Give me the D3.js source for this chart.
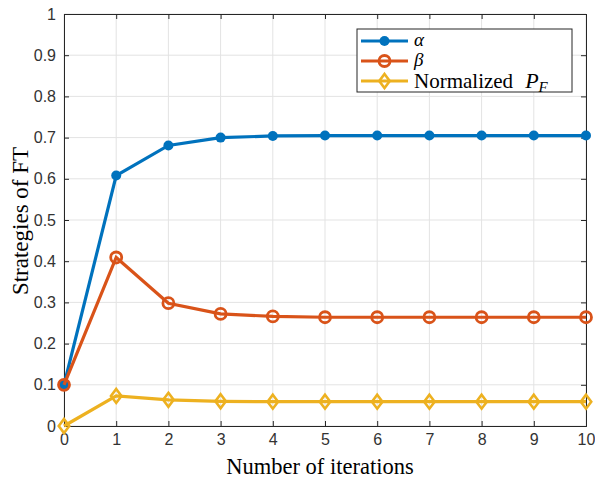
<!DOCTYPE html>
<html>
<head>
<meta charset="utf-8">
<script src="https://cdn.jsdelivr.net/npm/d3@7"></script>
<style>
  body { margin: 0; background: #fff; }
  svg { display: block; }
</style>
</head>
<body>
<svg id="chart" width="595" height="479"></svg>
<script>
// data
var iterations = [0, 1, 2, 3, 4, 5, 6, 7, 8, 9, 10]
var alphaVals = [0.1, 0.608, 0.681, 0.700, 0.704, 0.705, 0.705, 0.705, 0.705, 0.705, 0.705]
var betaVals = [0.1, 0.409, 0.298, 0.272, 0.266, 0.264, 0.264, 0.264, 0.264, 0.264, 0.264]
var pfVals = [0, 0.073, 0.0635, 0.060, 0.059, 0.059, 0.059, 0.059, 0.059, 0.059, 0.059]
var yTicks = [0, 0.1, 0.2, 0.3, 0.4, 0.5, 0.6, 0.7, 0.8, 0.9, 1]

var colors = ['#0072BD', '#D95319', '#EDB120']
var margin = { left: 64, right: 9, top: 14, bottom: 53 }
var width = 595, height = 479

var svg = d3.select('#chart')
var x = d3.scaleLinear().domain([0, 10]).range([margin.left, width - margin.right])
var y = d3.scaleLinear().domain([0, 1]).range([height - margin.bottom, margin.top])

// grid
var grid = svg.append('g').attr('stroke', '#e3e3e3').attr('stroke-width', 1)
grid.selectAll('.gx').data(iterations).enter().append('line')
  .attr('x1', function (d) { return x(d) }).attr('x2', function (d) { return x(d) })
  .attr('y1', y(0)).attr('y2', y(1))
grid.selectAll('.gy').data(yTicks).enter().append('line')
  .attr('y1', function (d) { return y(d) }).attr('y2', function (d) { return y(d) })
  .attr('x1', x(0)).attr('x2', x(10))

// axes
var fmt = function (d) { return d3.format('~g')(d) }
var xAxis = svg.append('g').attr('transform', 'translate(0,' + y(0) + ')')
  .call(d3.axisBottom(x).tickValues(iterations).tickSize(-5).tickPadding(8).tickFormat(fmt))
var yAxis = svg.append('g').attr('transform', 'translate(' + x(0) + ',0)')
  .call(d3.axisLeft(y).tickValues(yTicks).tickSize(-5).tickPadding(8).tickFormat(fmt))
var xTop = svg.append('g').attr('transform', 'translate(0,' + y(1) + ')')
  .call(d3.axisTop(x).tickValues(iterations).tickSize(-5).tickFormat(''))
var yRight = svg.append('g').attr('transform', 'translate(' + x(10) + ',0)')
  .call(d3.axisRight(y).tickValues(yTicks).tickSize(-5).tickFormat(''))

;[xAxis, yAxis, xTop, yRight].forEach(function (g) {
  g.select('.domain').attr('stroke', '#262626').attr('stroke-width', 1)
  g.selectAll('.tick line').attr('stroke', '#262626')
  g.selectAll('.tick text').attr('fill', '#333')
    .style('font-family', 'Liberation Sans, Arial, sans-serif').style('font-size', '16px')
})

// series
var series = [
  { vals: alphaVals, color: colors[0], marker: 'dot' },
  { vals: betaVals, color: colors[1], marker: 'ring' },
  { vals: pfVals, color: colors[2], marker: 'diamond' }
]
var line = d3.line().x(function (d, i) { return x(iterations[i]) }).y(function (d) { return y(d) })

function drawMarker (g, type, color, cx, cy) {
  if (type === 'dot') {
    g.append('circle').attr('cx', cx).attr('cy', cy).attr('r', 5).attr('fill', color)
  } else if (type === 'ring') {
    g.append('circle').attr('cx', cx).attr('cy', cy).attr('r', 5.5)
      .attr('fill', 'none').attr('stroke', color).attr('stroke-width', 2.8)
  } else {
    var s = 7
    g.append('path')
      .attr('d', 'M' + cx + ',' + (cy - s) + 'L' + (cx + s * 0.75) + ',' + cy + 'L' + cx + ',' + (cy + s) + 'L' + (cx - s * 0.75) + ',' + cy + 'Z')
      .attr('fill', 'none').attr('stroke', color).attr('stroke-width', 2.6)
  }
}

series.forEach(function (s) {
  var g = svg.append('g')
  g.append('path').datum(s.vals).attr('d', line)
    .attr('fill', 'none').attr('stroke', s.color).attr('stroke-width', 3.2)
  s.vals.forEach(function (v, i) {
    drawMarker(g, s.marker, s.color, x(iterations[i]), y(v))
  })
})

// legend
var lg = svg.append('g').attr('transform', 'translate(357,29)')
lg.append('rect').attr('width', 215).attr('height', 63)
  .attr('fill', '#fff').attr('stroke', '#262626').attr('stroke-width', 1)
var rows = [12, 32, 52]
series.forEach(function (s, i) {
  lg.append('line').attr('x1', 4).attr('x2', 51).attr('y1', rows[i]).attr('y2', rows[i])
    .attr('stroke', s.color).attr('stroke-width', 3.2)
  drawMarker(lg, s.marker, s.color, 27.5, rows[i])
})
var serif = 'Liberation Serif, Times New Roman, serif'
lg.append('text').attr('x', 57).attr('y', rows[0] + 5).style('font-family', serif)
  .style('font-size', '19px').style('font-style', 'italic').text('α')
lg.append('text').attr('x', 57).attr('y', rows[1] + 5).style('font-family', serif)
  .style('font-size', '19px').style('font-style', 'italic').text('β')
var t3 = lg.append('text').attr('x', 57).attr('y', rows[2] + 7).style('font-family', serif).style('font-size', '21px')
t3.append('tspan').text('Normalized')
t3.append('tspan').attr('dx', 12).style('font-style', 'italic').style('font-size', '22px').text('P')
t3.append('tspan').attr('dy', 4).style('font-style', 'italic').style('font-size', '15px').text('F')

// axis labels
svg.append('text').attr('x', (x(0) + x(10)) / 2 - 5).attr('y', 474)
  .attr('text-anchor', 'middle').style('font-family', serif).style('font-size', '22.5px')
  .text('Number of iterations')
svg.append('text').attr('transform', 'translate(28,' + (y(0.5) + 1) + ') rotate(-90)')
  .attr('text-anchor', 'middle').style('font-family', serif).style('font-size', '23px')
  .text('Strategies of FT')
</script>
</body>
</html>
